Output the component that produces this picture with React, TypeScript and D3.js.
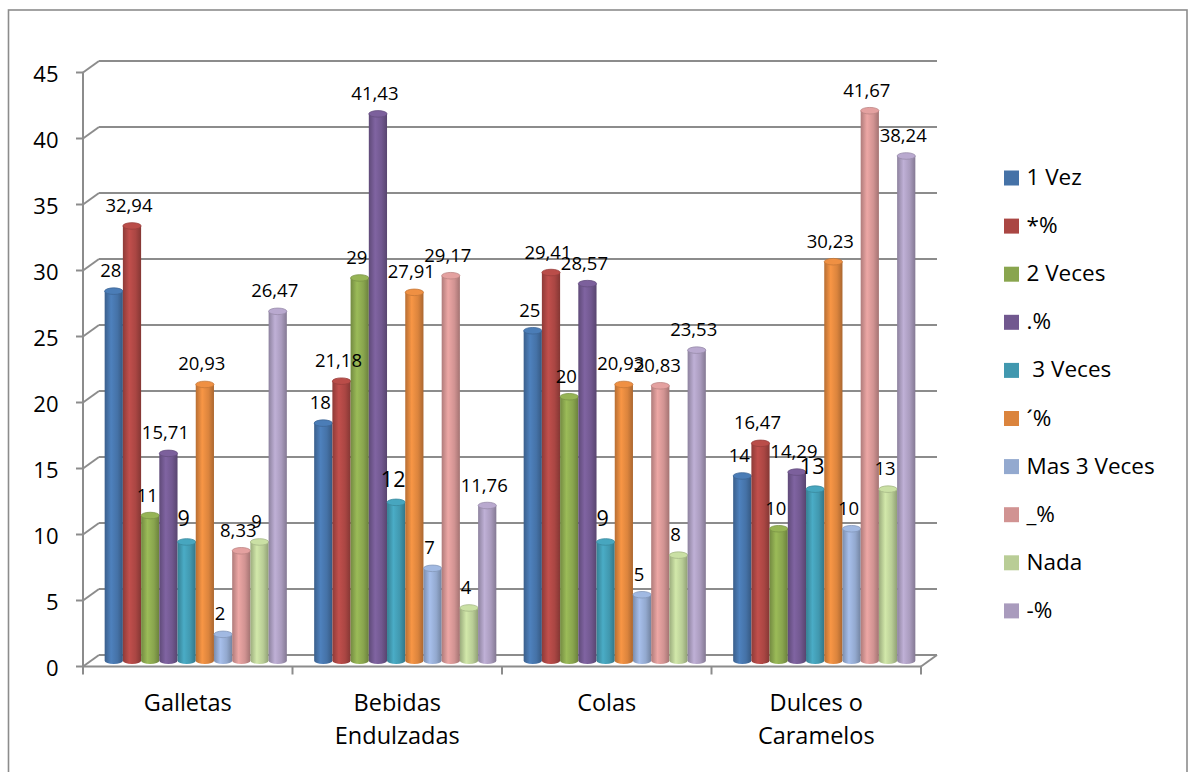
import React from "react";
import * as d3 from "d3";

// Categories and series shown in the clustered 3D column chart
const categories = ["Galletas", "Bebidas Endulzadas", "Colas", "Dulces o Caramelos"];
const categoryLines = [["Galletas"], ["Bebidas", "Endulzadas"], ["Colas"], ["Dulces o", "Caramelos"]];
const seriesNames = ["1 Vez", "*%", "2 Veces", ".%", " 3 Veces", "´%", "Mas 3 Veces", "_%", "Nada", "-%"];
const seriesColors = ["#4572A7", "#AA4643", "#89A54E", "#71588F", "#4198AF", "#DB843D", "#93A9CF", "#D19392", "#B9CD96", "#A99BBD"];

// values[series][category]
const vez1 = [28, 18, 25, 14];
const pct1 = [32.94, 21.18, 29.41, 16.47];
const veces2 = [11, 29, 20, 10];
const pct2 = [15.71, 41.43, 28.57, 14.29];
const veces3 = [9, 12, 9, 13];
const pct3 = [20.93, 27.91, 20.93, 30.23];
const mas3 = [2, 7, 5, 10];
const pct4 = [8.33, 29.17, 20.83, 41.67];
const nada = [9, 4, 8, 13];
const pct5 = [26.47, 11.76, 23.53, 38.24];
const seriesValues = [vez1, pct1, veces2, pct2, veces3, pct3, mas3, pct4, nada, pct5];

const yTicks = [0, 5, 10, 15, 20, 25, 30, 35, 40, 45];

const W = 1192;
const H = 772;
const FONT = "'Open Sans', 'Noto Sans', sans-serif";

// plot geometry (front plane and depth offset of the 3D box)
const frontLeft = 83;
const frontRight = 921;
const depthX = 16;
const depthY = 11.5;
const backBase = 655;
const backTop = 61;

export default function App() {
  const yBack = d3.scaleLinear().domain([0, 45]).range([backBase, backTop]);
  const yFront = (v: number) => yBack(v) + depthY;
  const yBar = (v: number) => yBack(v) + depthY / 2;

  const xCat = d3
    .scaleBand<string>()
    .domain(categories)
    .range([frontLeft + depthX / 2, frontRight + depthX / 2])
    .paddingInner(1.5 / 11.5)
    .paddingOuter(0.75 / 11.5);
  const xSeries = d3
    .scaleBand<number>()
    .domain(d3.range(seriesNames.length))
    .range([0, xCat.bandwidth()])
    .padding(0);

  const step = (frontRight - frontLeft) / categories.length;
  const catTicks = d3.range(categories.length + 1).map((i) => frontLeft + i * step);

  const grid = "#8c8c8c";
  const bw = xSeries.bandwidth();
  const ry = bw * 0.18;
  const base = yBar(0);

  return (
    <svg width={W} height={H} style={{ position: "absolute", left: 0, top: 0 }} fontFamily={FONT}>
      <defs>
        {seriesColors.map((c, i) => {
          const col = d3.color(c)!;
          return (
            <linearGradient key={i} id={`g${i}`} x1="0" x2="1" y1="0" y2="0">
              <stop offset="0%" stopColor={col.darker(0.5).formatHex()} />
              <stop offset="35%" stopColor={col.brighter(0.35).formatHex()} />
              <stop offset="70%" stopColor={c} />
              <stop offset="100%" stopColor={col.darker(0.7).formatHex()} />
            </linearGradient>
          );
        })}
      </defs>
      <rect x={0} y={0} width={W} height={H} fill="#fff" />
      <rect x={8.5} y={10} width={1178.5} height={800} fill="none" stroke={grid} strokeWidth={1.6} />

      {/* back wall gridlines and tick connectors */}
      {yTicks.map((t) => (
        <g key={t}>
          <line x1={frontLeft + depthX} x2={frontRight + depthX} y1={yBack(t)} y2={yBack(t)} stroke={grid} strokeWidth={2} />
          <line x1={frontLeft - 7} x2={frontLeft} y1={yFront(t)} y2={yFront(t)} stroke={grid} strokeWidth={2} />
          <line x1={frontLeft} x2={frontLeft + depthX} y1={yFront(t)} y2={yBack(t)} stroke={grid} strokeWidth={2} />
          <text x={58.5} y={yFront(t) + 9.5} textAnchor="end" fontSize={22} fill="#000">
            {t}
          </text>
        </g>
      ))}
      {/* floor */}
      <line x1={frontLeft} x2={frontRight} y1={yFront(0)} y2={yFront(0)} stroke={grid} strokeWidth={2} />
      <line x1={frontRight} x2={frontRight + depthX} y1={yFront(0)} y2={yBack(0)} stroke={grid} strokeWidth={2} />
      <line x1={frontLeft} x2={frontLeft} y1={yFront(45)} y2={yFront(0)} stroke={grid} strokeWidth={2} />
      {catTicks.map((x, i) => (
        <line key={i} x1={x} x2={x} y1={yFront(0)} y2={yFront(0) + 8} stroke={grid} strokeWidth={2} />
      ))}

      {/* cylinders */}
      {categories.map((cat, ci) => (
        <g key={cat}>
          {seriesValues.map((vals, si) => {
            const x0 = (xCat(cat) as number) + (xSeries(si) as number);
            const cx = x0 + bw / 2;
            const top = yBar(vals[ci]);
            const col = d3.color(seriesColors[si])!;
            return (
              <g key={si}>
                <path
                  d={`M${x0},${top} L${x0},${base} A${bw / 2},${ry} 0 0 0 ${x0 + bw},${base} L${x0 + bw},${top} Z`}
                  fill={`url(#g${si})`}
                />
                <ellipse cx={cx} cy={top} rx={bw / 2} ry={ry} fill={col.brighter(0.25).formatHex()} stroke={col.darker(0.3).formatHex()} strokeWidth={0.8} />
              </g>
            );
          })}
        </g>
      ))}

      {/* data labels */}
      {categories.map((cat, ci) => (
        <g key={cat}>
          {seriesValues.map((vals, si) => {
            const cx = (xCat(cat) as number) + (xSeries(si) as number) + bw / 2;
            const top = yBar(vals[ci]);
            const big = si === 4;
            return (
              <text key={si} x={cx - 3} y={top - (big ? 15.5 : 14)} textAnchor="middle" fontSize={big ? 21.5 : 18.5} fill="#000">
                {String(vals[ci]).replace(".", ",")}
              </text>
            );
          })}
        </g>
      ))}

      {/* category labels */}
      {categories.map((cat, ci) => (
        <text key={cat} x={frontLeft + step * (ci + 0.5)} textAnchor="middle" fontSize={23.5} fill="#000">
          {categoryLines[ci].map((line, li) => (
            <tspan key={li} x={frontLeft + step * (ci + 0.5)} y={711 + li * 33}>
              {line}
            </tspan>
          ))}
        </text>
      ))}

      {/* legend */}
      {seriesNames.map((name, i) => (
        <g key={i} transform={`translate(1004, ${185 + i * 48.1})`}>
          <rect x={0} y={-14.5} width={15} height={15} fill={seriesColors[i]} />
          <text x={22.5} y={0} fontSize={22.5} fill="#000" style={{ whiteSpace: "pre" }}>
            {name}
          </text>
        </g>
      ))}
    </svg>
  );
}
